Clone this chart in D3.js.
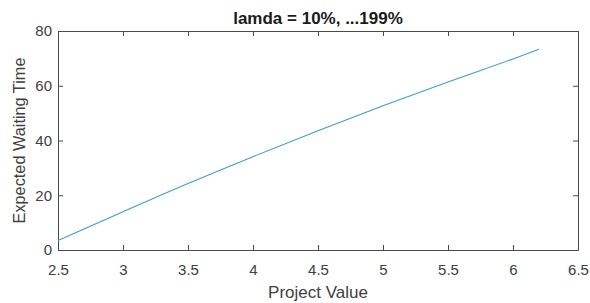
<!DOCTYPE html>
<html>
<head>
<meta charset="utf-8">
<script src="https://d3js.org/d3.v7.min.js"></script>
<style>
  * { margin: 0; padding: 0; }
  body { background: #fff; font-family: "Liberation Sans", Arial, sans-serif; }
  .axis text { font-size: 15px; fill: #404040; font-family: "Liberation Sans", Arial, sans-serif; }
  .axis path, .axis line { stroke: #4a4a4a; }
</style>
</head>
<body>
<div id="chart"></div>
<script>
// values
const projectValue = [2.5, 3, 3.5, 4, 4.5, 5, 5.5, 6, 6.2];
const waitingTime = [3.5, 14.0, 24.3, 34.1, 43.6, 52.7, 61.4, 69.8, 73.3];
const xTicks = [2.5, 3, 3.5, 4, 4.5, 5, 5.5, 6, 6.5];
const yTicks = [0, 20, 40, 60, 80];

const width = 590, height = 303;
const m = { left: 58, right: 12, top: 31, bottom: 53 };

const svg = d3.select("#chart").append("svg")
  .attr("width", width).attr("height", height);

const x = d3.scaleLinear().domain([2.5, 6.5]).range([m.left, width - m.right]);
const y = d3.scaleLinear().domain([0, 80]).range([height - m.bottom, m.top]);

const fmt = d => String(d);

// bottom + left axes with inward ticks
svg.append("g").attr("class", "axis")
  .attr("transform", "translate(0," + (height - m.bottom) + ")")
  .call(d3.axisBottom(x).tickValues(xTicks).tickFormat(fmt).tickSizeInner(-5).tickSizeOuter(0).tickPadding(14));

svg.append("g").attr("class", "axis")
  .attr("transform", "translate(" + m.left + ",0)")
  .call(d3.axisLeft(y).tickValues(yTicks).tickFormat(fmt).tickSizeInner(-5).tickSizeOuter(0).tickPadding(6));

// top + right axes (ticks only)
svg.append("g").attr("class", "axis")
  .attr("transform", "translate(0," + m.top + ")")
  .call(d3.axisTop(x).tickValues(xTicks).tickFormat("").tickSizeInner(-5).tickSizeOuter(0));

svg.append("g").attr("class", "axis")
  .attr("transform", "translate(" + (width - m.right) + ",0)")
  .call(d3.axisRight(y).tickValues(yTicks).tickFormat("").tickSizeInner(-5).tickSizeOuter(0));

// curve
const line = d3.line()
  .x((d, i) => x(projectValue[i]))
  .y(d => y(d))
  .curve(d3.curveMonotoneX);

svg.append("path")
  .datum(waitingTime)
  .attr("d", line)
  .attr("fill", "none")
  .attr("stroke", "#3d9be0")
  .attr("stroke-width", 1.1);

// title and labels
svg.append("text")
  .attr("x", (m.left + width - m.right) / 2)
  .attr("y", 24)
  .attr("text-anchor", "middle")
  .style("font-size", "17px")
  .style("font-weight", "bold")
  .style("fill", "#1a1a1a")
  .text("lamda = 10%, ...199%");

svg.append("text")
  .attr("x", (m.left + width - m.right) / 2)
  .attr("y", 298)
  .attr("text-anchor", "middle")
  .style("font-size", "17px")
  .style("fill", "#404040")
  .text("Project Value");

svg.append("text")
  .attr("transform", "translate(25," + ((m.top + height - m.bottom) / 2) + ") rotate(-90)")
  .attr("text-anchor", "middle")
  .style("font-size", "16.3px")
  .style("fill", "#404040")
  .text("Expected Waiting Time");
</script>
</body>
</html>
